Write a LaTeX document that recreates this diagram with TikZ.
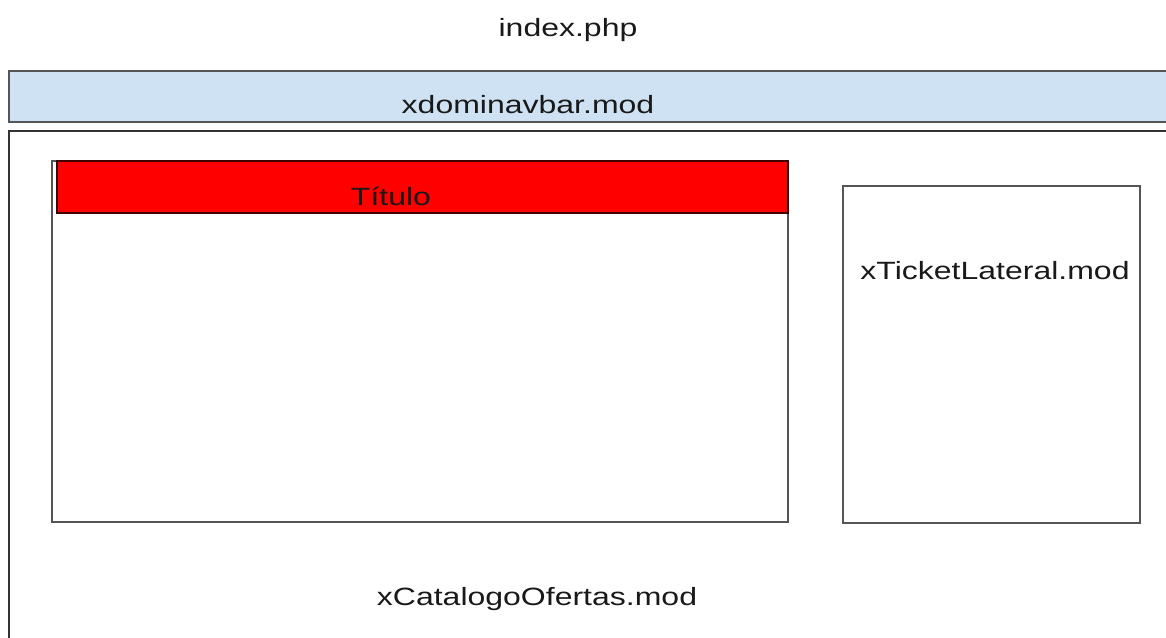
\documentclass[tikz,border=0pt]{standalone}
\usepackage{fontspec}
\setmainfont[FakeStretch=1.28]{Liberation Sans}
\definecolor{navfill}{HTML}{CFE2F3}
\definecolor{boxline}{HTML}{555555}
\definecolor{titlered}{HTML}{FF0000}
\begin{document}
\begin{tikzpicture}[x=1pt,y=-1pt,
    modbox/.style={rectangle, draw=boxline, line width=1.5pt, inner sep=0pt, outer sep=0pt},
    modtext/.style={anchor=base, inner sep=0pt, text=black!90, font=\fontsize{25}{30}\selectfont}]
    \useasboundingbox (0,0) rectangle (1166,637);
    \clip (0,0) rectangle (1166,637);
    \node[modbox, fill=navfill, minimum width=1171pt, minimum height=51pt] (navbar) at (594.5,96.5) {};
    \node[modbox, draw=black!80, minimum width=1171pt, minimum height=529pt] (catalogo) at (594.5,395.5) {};
    \node[modbox, minimum width=736pt, minimum height=361pt] (contenido) at (420,341.5) {};
    \node[modbox, fill=titlered, draw=black!75!red, minimum width=731pt, minimum height=52pt] (titulo) at (422.5,187) {};
    \node[modbox, minimum width=297pt, minimum height=337pt] (ticket) at (991.5,354.5) {};
    \node[modtext] (indexlbl) at (568,36) {index.php};
    \node[modtext] (navlbl) at (528,113) {xdominavbar.mod};
    \node[modtext] (titulolbl) at (391,205) {Título};
    \node[modtext] (ticketlbl) at (995,279) {xTicketLateral.mod};
    \node[modtext] (catalogolbl) at (537,605) {xCatalogoOfertas.mod};
  \end{tikzpicture}
\end{document}
